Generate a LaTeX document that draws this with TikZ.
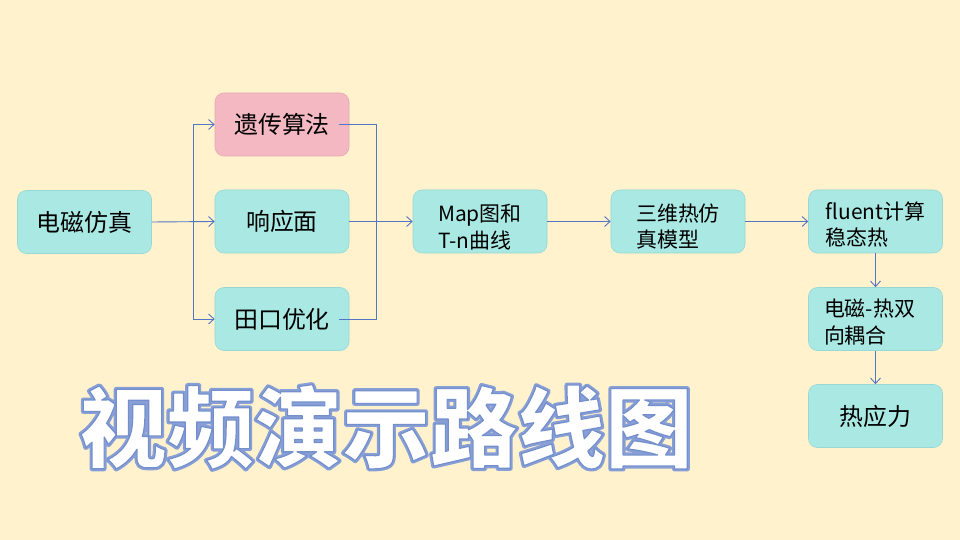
\documentclass[tikz,border=0pt]{standalone}
\usepackage{fontspec}
\newfontfamily\cjk{Noto Sans CJK SC}
\usetikzlibrary{arrows.meta,calc}
\definecolor{bg}{RGB}{255,242,205}
\definecolor{teal}{RGB}{169,232,227}
\definecolor{tealedge}{RGB}{150,216,212}
\definecolor{pinkbox}{RGB}{243,184,194}
\definecolor{pinkedge}{RGB}{230,168,180}
\definecolor{linkblue}{RGB}{84,116,196}
\newcommand{\strokedtext}[1]{\special{pdf:code 0.53 0.62 0.84 RG 5 w 1 j 1 Tr}#1\special{pdf:code 0 Tr 1 w 0 j}}
\newcommand{\edgetext}[1]{\special{pdf:code 0.45 0.56 0.8 RG 1.2 w 1 j 2 Tr}#1\special{pdf:code 0 Tr 1 w 0 j}}
\tikzset{
  box/.style={rectangle, rounded corners=9bp, fill=teal, draw=tealedge, line width=0.6bp,
    minimum width=134bp, minimum height=63bp, inner sep=0pt, font=\cjk\fontsize{24}{28}\selectfont},
  pinkb/.style={box, fill=pinkbox, draw=pinkedge},
  twoline/.style={inner sep=0pt, align=left, font=\cjk\fontsize{21}{27}\selectfont},
  link/.style={draw=linkblue, line width=0.9bp},
  arr/.style={link, -{Straight Barb[length=5.5bp,width=10bp,line width=0.9bp]}},
  titletext/.style={inner sep=0pt, font=\cjk\bfseries\fontsize{88}{90}\selectfont}
}
\begin{document}
\begin{tikzpicture}[x=1bp,y=-1bp]
\useasboundingbox (0,0) rectangle (960,540);
\fill[bg] (0,0) rectangle (960,540);

% boxes
\node[box] (em) at (84.5,222) {电磁仿真};
\node[pinkb] (ga) at (282,124.5) {遗传算法};
\node[box] (xy) at (282,221.5) {响应面};
\node[box] (tk) at (282,319) {田口优化};
\node[box] (map) at (480,221.5) {};
\node[box] (sw) at (678,221.5) {};
\node[box] (fl) at (875.5,221.5) {};
\node[box] (ou) at (875.5,319) {};
\node[box] (rs) at (875.5,416) {热应力};

\node[twoline] (maptxt) at ([yshift=-6bp]map.center) {Map图和\\T-n曲线};
\node[twoline] (swtxt) at ([yshift=-5bp]sw.center) {三维热仿\\真模型};
\node[twoline] (fltxt) at ([yshift=-3bp]fl.center) {fluent计算\\稳态热};
\node[twoline] (outxt) at ([yshift=-3bp,xshift=-6bp]ou.center) {电磁-热双\\向耦合};

% connectors
\coordinate (jL) at (193,222);
\coordinate (jR) at (376.5,222);
\draw[arr] (em.east) -- (xy.west);
\draw[arr] (jL) |- (ga.west);
\draw[arr] (jL) |- (tk.west);
\draw[link] ([xshift=-10bp]ga.east) -| (jR);
\draw[link] ([xshift=-10bp]tk.east) -| (jR);
\draw[arr] (xy.east) -- (map.west);
\draw[arr] (map.east) -- (sw.west);
\draw[arr] (sw.east) -- (fl.west);
\draw[arr] (fl.south) -- (ou.north);
\draw[arr] (ou.south) -- (rs.north);

% title: blue halo behind, white letters with thin blue edge in front
\node[titletext, text=white] (titleback) at (386,427) {\strokedtext{视频演示路线图}};
\node[titletext, text=white] (title) at (titleback.center) {\edgetext{视频演示路线图}};
\end{tikzpicture}
\end{document}
